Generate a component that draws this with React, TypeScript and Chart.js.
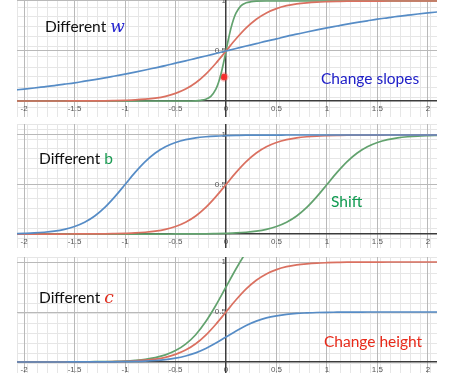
import React, { useEffect, useRef } from 'react';
import { Chart, registerables } from 'chart.js';

Chart.register(...registerables);

// ---------- data ----------
const X_VALUES = [-2.1, -2.0, -1.9, -1.8, -1.7, -1.6, -1.5, -1.4, -1.3, -1.2, -1.1, -1.0, -0.9, -0.8, -0.7, -0.6, -0.5, -0.4, -0.3, -0.2, -0.1, 0, 0.1, 0.2, 0.3, 0.4, 0.5, 0.6, 0.7, 0.8, 0.9, 1.0, 1.1, 1.2, 1.3, 1.4, 1.5, 1.6, 1.7, 1.8, 1.9, 2.0, 2.1];

// Panel 1: different w
const W_BLUE = [0.109, 0.119, 0.130, 0.142, 0.154, 0.168, 0.182, 0.198, 0.214, 0.231, 0.250, 0.269, 0.289, 0.310, 0.332, 0.354, 0.378, 0.401, 0.426, 0.450, 0.475, 0.5, 0.525, 0.550, 0.574, 0.599, 0.622, 0.646, 0.668, 0.690, 0.711, 0.731, 0.750, 0.769, 0.786, 0.802, 0.818, 0.832, 0.846, 0.858, 0.870, 0.881, 0.891];
const W_RED = [0, 0, 0, 0, 0, 0, 0.001, 0.001, 0.002, 0.002, 0.004, 0.007, 0.011, 0.018, 0.029, 0.047, 0.076, 0.119, 0.182, 0.269, 0.378, 0.5, 0.622, 0.731, 0.818, 0.881, 0.924, 0.953, 0.971, 0.982, 0.989, 0.993, 0.996, 0.998, 0.998, 0.999, 0.999, 1, 1, 1, 1, 1, 1];
const X_STEEP = [-2.1, -0.4, -0.3, -0.25, -0.2, -0.15, -0.1, -0.075, -0.05, -0.025, 0, 0.025, 0.05, 0.075, 0.1, 0.15, 0.2, 0.25, 0.3, 0.4, 2.1];
const W_GREEN = [0, 0, 0.002, 0.007, 0.018, 0.047, 0.119, 0.182, 0.269, 0.378, 0.5, 0.622, 0.731, 0.818, 0.881, 0.953, 0.982, 0.993, 0.998, 1, 1];
const DOT_X = [-0.02];
const DOT_Y = [0.24];

// Panel 2: different b
const B_BLUE = [0.004, 0.007, 0.011, 0.018, 0.029, 0.047, 0.076, 0.119, 0.182, 0.269, 0.378, 0.5, 0.622, 0.731, 0.818, 0.881, 0.924, 0.953, 0.971, 0.982, 0.989, 0.993, 0.996, 0.998, 0.998, 0.999, 0.999, 1, 1, 1, 1, 1, 1, 1, 1, 1, 1, 1, 1, 1, 1, 1, 1];
const B_RED = [0, 0, 0, 0, 0, 0, 0.001, 0.001, 0.002, 0.002, 0.004, 0.007, 0.011, 0.018, 0.029, 0.047, 0.076, 0.119, 0.182, 0.269, 0.378, 0.5, 0.622, 0.731, 0.818, 0.881, 0.924, 0.953, 0.971, 0.982, 0.989, 0.993, 0.996, 0.998, 0.998, 0.999, 0.999, 1, 1, 1, 1, 1, 1];
const B_GREEN = [0, 0, 0, 0, 0, 0, 0, 0, 0, 0, 0, 0, 0, 0, 0, 0, 0.001, 0.001, 0.002, 0.002, 0.004, 0.007, 0.011, 0.018, 0.029, 0.047, 0.076, 0.119, 0.182, 0.269, 0.378, 0.5, 0.622, 0.731, 0.818, 0.881, 0.924, 0.953, 0.971, 0.982, 0.989, 0.993, 0.996];

// Panel 3: different c
const C_BLUE = [0, 0, 0, 0, 0, 0, 0.001, 0.001, 0.001, 0.001, 0.002, 0.004, 0.006, 0.009, 0.015, 0.024, 0.038, 0.060, 0.091, 0.134, 0.189, 0.25, 0.311, 0.366, 0.409, 0.441, 0.462, 0.477, 0.486, 0.491, 0.495, 0.497, 0.498, 0.499, 0.499, 0.5, 0.5, 0.5, 0.5, 0.5, 0.5, 0.5, 0.5];
const C_RED = [0, 0, 0, 0, 0, 0, 0.001, 0.001, 0.002, 0.002, 0.004, 0.007, 0.011, 0.018, 0.029, 0.047, 0.076, 0.119, 0.182, 0.269, 0.378, 0.5, 0.622, 0.731, 0.818, 0.881, 0.924, 0.953, 0.971, 0.982, 0.989, 0.993, 0.996, 0.998, 0.998, 0.999, 0.999, 1, 1, 1, 1, 1, 1];
const C_GREEN = [0, 0, 0, 0, 0, 0, 0.002, 0.002, 0.003, 0.003, 0.006, 0.010, 0.017, 0.027, 0.044, 0.071, 0.114, 0.179, 0.273, 0.404, 0.567, 0.75, 0.933, 1.097, 1.227, 1.322, 1.386, 1.430, 1.457, 1.473, 1.484, 1.490, 1.494, 1.497, 1.497, 1.499, 1.499, 1.5, 1.5, 1.5, 1.5, 1.5, 1.5];

// Ticks
const X_MAJOR = [-2, -1.5, -1, -0.5, 0, 0.5, 1, 1.5, 2];
const X_LABELS = ['-2', '-1.5', '-1', '-0.5', '0', '0.5', '1', '1.5', '2'];
const Y_MAJOR = [0.5, 1];
const Y_LABELS = ['0.5', '1'];

// ---------- style ----------
const BLUE = 'rgb(86,140,198)';
const RED = 'rgb(218,112,96)';
const GREEN = 'rgb(98,162,110)';
const MINOR = '#e6e6e6';
const MAJOR = '#b9b9b9';
const AXIS = '#3c3c3c';
const TICK_FONT = { size: 8, family: '"Liberation Sans", Arial, sans-serif' };
const TEXT_FONT = 'Lato, "Open Sans", sans-serif';
const X_MIN = -2.07;
const X_MAX = 2.09;

type Series = { xs: number[]; ys: number[]; color: string; dot?: boolean };

const zeroPad = (s: any) => {
  s.paddingTop = 0;
  s.paddingBottom = 0;
  s.paddingLeft = 0;
  s.paddingRight = 0;
};

function Panel({ top, height, yMin, yMax, series }: { top: number; height: number; yMin: number; yMax: number; series: Series[] }) {
  const ref = useRef<HTMLCanvasElement>(null);
  useEffect(() => {
    if (!ref.current) return;
    const datasets = series.map((s) => ({
      data: s.xs.map((x, i) => ({ x, y: s.ys[i] })),
      xAxisID: 'x',
      yAxisID: 'y',
      borderColor: s.color,
      backgroundColor: s.color,
      borderWidth: 1.7,
      showLine: !s.dot,
      pointRadius: s.dot ? 3.2 : 0,
      pointBackgroundColor: s.dot ? '#f42a2a' : s.color,
      pointBorderColor: s.dot ? 'rgba(245,70,70,0.35)' : s.color,
      pointBorderWidth: s.dot ? 3 : 0,
      cubicInterpolationMode: 'monotone' as const,
      fill: false,
    }));
    const chart = new Chart(ref.current, {
      type: 'line',
      data: { datasets },
      options: {
        animation: false,
        responsive: false,
        events: [],
        layout: { padding: 0, autoPadding: false },
        plugins: { legend: { display: false }, tooltip: { enabled: false } },
        scales: {
          xMinor: {
            type: 'linear', axis: 'x', min: X_MIN, max: X_MAX, bounds: 'data',
            position: { y: 0 } as any,
            afterFit: zeroPad,
            grid: { color: MINOR, lineWidth: 1, drawTicks: false, z: -2 } as any,
            border: { display: false },
            ticks: { display: false, stepSize: 0.1, includeBounds: false },
          },
          yMinor: {
            type: 'linear', axis: 'y', min: yMin, max: yMax, bounds: 'data',
            position: { x: 0 } as any,
            afterFit: zeroPad,
            grid: { color: MINOR, lineWidth: 1, drawTicks: false, z: -2 } as any,
            border: { display: false },
            ticks: { display: false, stepSize: 0.1, includeBounds: false },
          },
          x: {
            type: 'linear', axis: 'x', min: X_MIN, max: X_MAX, bounds: 'data',
            position: { y: 0 } as any,
            afterBuildTicks: (s: any) => { s.ticks = X_MAJOR.map((v) => ({ value: v })); },
            afterFit: zeroPad,
            grid: { color: MAJOR, lineWidth: 1, drawTicks: false },
            border: { display: true, color: AXIS, width: 1.5 },
            ticks: { autoSkip: false, maxRotation: 0, padding: 3, color: '#555', font: TICK_FONT, callback: (_v: any, i: number) => X_LABELS[i] },
          },
          y: {
            type: 'linear', axis: 'y', min: yMin, max: yMax, bounds: 'data',
            position: { x: 0 } as any,
            afterBuildTicks: (s: any) => { s.ticks = Y_MAJOR.map((v) => ({ value: v })); },
            afterFit: zeroPad,
            grid: { color: MAJOR, lineWidth: 1, drawTicks: false },
            border: { display: true, color: AXIS, width: 1.5 },
            ticks: { autoSkip: false, padding: 2, color: '#555', font: TICK_FONT, callback: (_v: any, i: number) => Y_LABELS[i] },
          },
        },
      } as any,
    });
    return () => chart.destroy();
  }, []);
  return (
    <canvas
      ref={ref}
      width={420}
      height={height}
      style={{ position: 'absolute', left: 17, top, width: 420, height, display: 'block' }}
    />
  );
}

function Label({ left, baseline, color, size = 15.5, children }: { left: number; baseline: number; color: string; size?: number; children: React.ReactNode }) {
  return (
    <div
      style={{
        position: 'absolute', left, top: baseline - size * 0.8, fontFamily: TEXT_FONT, fontSize: size,
        lineHeight: `${size}px`, color, whiteSpace: 'nowrap',
      }}
    >
      {children}
    </div>
  );
}

const mathStyle = { fontFamily: '"DejaVu Serif", "Liberation Serif", serif', fontStyle: 'italic', fontSize: 17 } as const;

export default function App() {
  return (
    <div style={{ position: 'absolute', left: 0, top: 0, width: 464, height: 373, background: '#fff', overflow: 'hidden' }}>
      <Panel top={0} height={117} yMin={-0.16} yMax={1.01} series={[
        { xs: X_VALUES, ys: W_BLUE, color: BLUE },
        { xs: X_VALUES, ys: W_RED, color: RED },
        { xs: X_STEEP, ys: W_GREEN, color: GREEN },
        { xs: DOT_X, ys: DOT_Y, color: '#f42a2a', dot: true },
      ]} />
      <Panel top={124} height={124} yMin={-0.141} yMax={1.111} series={[
        { xs: X_VALUES, ys: B_BLUE, color: BLUE },
        { xs: X_VALUES, ys: B_RED, color: RED },
        { xs: X_VALUES, ys: B_GREEN, color: GREEN },
      ]} />
      <Panel top={257} height={116} yMin={-0.11} yMax={1.05} series={[
        { xs: X_VALUES, ys: C_BLUE, color: BLUE },
        { xs: X_VALUES, ys: C_RED, color: RED },
        { xs: X_VALUES, ys: C_GREEN, color: GREEN },
      ]} />

      <Label left={45} baseline={31} color="#111">
        Different <span style={{ ...mathStyle, color: '#2424d0' }}>w</span>
      </Label>
      <Label left={321} baseline={83} color="#2020c8">Change slopes</Label>

      <Label left={39} baseline={163} color="#111">
        Different <span style={{ color: '#1a9a52' }}>b</span>
      </Label>
      <Label left={331} baseline={206} color="#0f9a50">Shift</Label>

      <Label left={39} baseline={302} color="#111">
        Different <span style={{ ...mathStyle, color: '#e02a1a' }}>c</span>
      </Label>
      <Label left={324} baseline={346.5} color="#e82a1a">Change height</Label>
    </div>
  );
}
